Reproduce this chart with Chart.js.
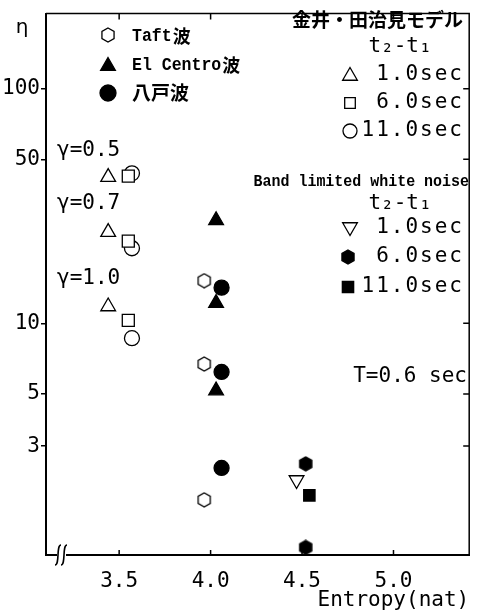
<!DOCTYPE html>
<html>
<head>
<meta charset="utf-8">
<script src="https://cdn.jsdelivr.net/npm/chart.js@4/dist/chart.umd.min.js"></script>
<style>
  html, body { margin: 0; padding: 0; background: #fff; }
</style>
</head>
<body>
<canvas id="etaChart" width="479" height="613"></canvas>
<script>
// Kanai-Tajimi model, t2-t1 = 1.0 / 6.0 / 11.0 sec (rows: gamma 0.5, 0.7, 1.0)
const kt1Entropy = [3.44, 3.44, 3.44];
const kt1Eta = [42.0, 24.5, 11.8];
const kt6Entropy = [3.55, 3.55, 3.55];
const kt6Eta = [42.4, 22.4, 10.3];
const kt11Entropy = [3.57, 3.57, 3.57];
const kt11Eta = [43.6, 20.9, 8.65];

// recorded waves
const taftEntropy = [3.965, 3.965, 3.965];
const taftEta = [15.2, 6.71, 1.77];
const elCentroEntropy = [4.03, 4.03, 4.03];
const elCentroEta = [27.5, 12.2, 5.17];
const hachinoheEntropy = [4.06, 4.06, 4.06];
const hachinoheEta = [14.2, 6.21, 2.42];

// band limited white noise
const bl1Entropy = [4.47];
const bl1Eta = [2.15];
const bl6Entropy = [4.52, 4.52];
const bl6Eta = [2.52, 1.11];
const bl11Entropy = [4.54];
const bl11Eta = [1.85];

const xTicks = [3.5, 4.0, 4.5, 5.0];
const yTicks = [3, 5, 10, 50, 100];
const gammaLabels = ['γ=0.5', 'γ=0.7', 'γ=1.0'];

const MONO = '"DejaVu Sans Mono", monospace';
const BOLDMONO = '"Liberation Mono", monospace';
const CJK = '"Noto Sans CJK JP", sans-serif';

function hexagon(size, filled) {
    const c = document.createElement('canvas');
    c.width = c.height = size;
    const g = c.getContext('2d');
    const r = size / 2 - 1;
    g.beginPath();
    for (let i = 0; i < 6; i++) {
        const a = Math.PI / 3 * i - Math.PI / 2;
        g.lineTo(size / 2 + r * Math.cos(a), size / 2 + r * Math.sin(a));
    }
    g.closePath();
    g.lineWidth = 1.3;
    g.strokeStyle = '#000';
    g.fillStyle = filled ? '#000' : '#fff';
    g.fill();
    g.stroke();
    return c;
}
const hexOpen = hexagon(16, false);
const hexFull = hexagon(16, true);

const pts = (xs, ys) => xs.map((x, i) => ({ x: x, y: ys[i] }));

function series(xs, ys, style, radius, filled, rotation) {
    return {
        data: pts(xs, ys),
        pointStyle: style,
        pointRadius: radius,
        pointRotation: rotation || 0,
        pointBorderWidth: 1.3,
        pointBorderColor: '#000',
        pointBackgroundColor: filled ? '#000' : '#fff',
        showLine: false
    };
}

function txt(ctx, s, x, y, font, align, sx, spacing) {
    ctx.save();
    ctx.font = font;
    ctx.fillStyle = '#000';
    ctx.textAlign = align || 'left';
    ctx.textBaseline = 'middle';
    ctx.letterSpacing = spacing || '0px';
    ctx.translate(x, y);
    ctx.scale(sx || 1, 1);
    ctx.fillText(s, 0, 0);
    const w = ctx.measureText(s).width * (sx || 1);
    ctx.restore();
    return w;
}

function mark(ctx, style, x, y, radius, filled, rotation) {
    ctx.save();
    ctx.fillStyle = filled ? '#000' : '#fff';
    ctx.strokeStyle = '#000';
    ctx.lineWidth = 1.3;
    Chart.helpers.drawPoint(ctx, { pointStyle: style, radius: radius, rotation: rotation || 0, borderWidth: 1.3 }, x, y);
    ctx.restore();
}

// frame, inward ticks, axis break and all the keyed text
const decorations = {
    id: 'decorations',
    afterDraw(chart) {
        const ctx = chart.ctx;
        const a = chart.chartArea;
        const xs = chart.scales.x, ys = chart.scales.y;

        ctx.save();
        ctx.strokeStyle = '#000';
        ctx.lineWidth = 1.5;
        ctx.beginPath();
        ctx.moveTo(a.left, a.top); ctx.lineTo(a.right, a.top); ctx.lineTo(a.right, a.bottom);
        xTicks.forEach(v => {
            const px = xs.getPixelForValue(v);
            ctx.moveTo(px, a.top); ctx.lineTo(px, a.top + 6);
            ctx.moveTo(px, a.bottom); ctx.lineTo(px, a.bottom - 5);
        });
        yTicks.forEach(v => {
            const py = ys.getPixelForValue(v);
            ctx.moveTo(a.right, py); ctx.lineTo(a.right - 6, py);
        });
        ctx.stroke();

        // break on the entropy axis
        ctx.fillStyle = '#fff';
        ctx.fillRect(a.left + 11, a.bottom - 3, 9, 6);
        ctx.lineWidth = 1.6;
        [a.left + 12, a.left + 18].forEach(bx => {
            ctx.beginPath();
            ctx.moveTo(bx - 3, a.bottom + 10);
            ctx.bezierCurveTo(bx + 2, a.bottom + 10, bx - 2, a.bottom - 10, bx + 3, a.bottom - 10);
            ctx.stroke();
        });
        ctx.restore();

        txt(ctx, 'η', 22, 28, '20px "DejaVu Sans"', 'center');

        // wave legend
        mark(ctx, hexOpen, 108, 35, 8);
        let w = txt(ctx, 'Taft', 132, 36, 'bold 19px ' + BOLDMONO, 'left', 0.87);
        txt(ctx, '波', 132 + w + 1, 36, 'bold 18px ' + CJK);
        mark(ctx, 'triangle', 108, 66, 8.5, true);
        w = txt(ctx, 'El Centro', 132, 65, 'bold 19px ' + BOLDMONO, 'left', 0.87);
        txt(ctx, '波', 132 + w + 1, 65, 'bold 18px ' + CJK);
        mark(ctx, 'circle', 108, 93, 8, true);
        txt(ctx, '八戸波', 132, 93, 'bold 19px ' + CJK);

        // Kanai-Tajimi legend
        txt(ctx, '金井・田治見モデル', 463, 20, 'bold 19px ' + CJK, 'right');
        txt(ctx, 't₂-t₁', 400, 47, '21px ' + MONO, 'center');
        mark(ctx, 'triangle', 350, 76, 8.5, false);
        mark(ctx, 'rect', 350, 103, 7.5, false);
        mark(ctx, 'circle', 350, 131, 7, false);
        txt(ctx, '1.0sec', 464, 75, '21px ' + MONO, 'right', 1, '2px');
        txt(ctx, '6.0sec', 464, 103, '21px ' + MONO, 'right', 1, '2px');
        txt(ctx, '11.0sec', 464, 131, '21px ' + MONO, 'right', 1, '2px');

        // white noise legend
        txt(ctx, 'Band limited white noise', 469, 182, 'bold 17px ' + BOLDMONO, 'right', 0.88);
        txt(ctx, 't₂-t₁', 400, 204, '21px ' + MONO, 'center');
        mark(ctx, 'triangle', 350, 227, 8.5, false, 180);
        mark(ctx, hexFull, 348, 257, 8, true);
        mark(ctx, 'rect', 348, 287, 8, true);
        txt(ctx, '1.0sec', 464, 228, '21px ' + MONO, 'right', 1, '2px');
        txt(ctx, '6.0sec', 464, 257, '21px ' + MONO, 'right', 1, '2px');
        txt(ctx, '11.0sec', 464, 287, '21px ' + MONO, 'right', 1, '2px');

        txt(ctx, 'T=0.6 sec', 467, 377, '21px ' + MONO, 'right');

        const gammaY = [151, 204, 279];
        gammaLabels.forEach((g, i) => txt(ctx, g, 57, gammaY[i], '21px ' + MONO));
    }
};

new Chart(document.getElementById('etaChart').getContext('2d'), {
    type: 'scatter',
    data: {
        datasets: [
            series(kt1Entropy, kt1Eta, 'triangle', 8.5, false),
            series(kt6Entropy, kt6Eta, 'rect', 8.5, false),
            series(kt11Entropy, kt11Eta, 'circle', 7.5, false),
            series(taftEntropy, taftEta, hexOpen, 8, false),
            series(elCentroEntropy, elCentroEta, 'triangle', 8.5, true),
            series(hachinoheEntropy, hachinoheEta, 'circle', 7.5, true),
            series(bl1Entropy, bl1Eta, 'triangle', 8.5, false, 180),
            series(bl6Entropy, bl6Eta, hexFull, 8, true),
            series(bl11Entropy, bl11Eta, 'rect', 8, true)
        ]
    },
    options: {
        responsive: false,
        devicePixelRatio: 1,
        animation: false,
        events: [],
        layout: { padding: { top: 8, right: 8, left: 0, bottom: 0 } },
        plugins: { legend: { display: false }, tooltip: { enabled: false } },
        scales: {
            x: {
                type: 'linear',
                min: 3.1,
                max: 5.414,
                afterBuildTicks: s => { s.ticks = xTicks.map(v => ({ value: v })); },
                afterFit: s => { s.height = 58; },
                grid: { display: false },
                border: { display: true, color: '#000', width: 2 },
                ticks: {
                    color: '#000',
                    font: { family: MONO, size: 21 },
                    padding: 6,
                    maxRotation: 0,
                    autoSkip: false,
                    callback: v => v.toFixed(1)
                },
                title: {
                    display: true,
                    text: 'Entropy(nat)',
                    align: 'end',
                    color: '#000',
                    font: { family: MONO, size: 21 },
                    padding: { top: 0, bottom: 0 }
                }
            },
            y: {
                type: 'logarithmic',
                min: 1.03,
                max: 209,
                afterBuildTicks: s => { s.ticks = yTicks.map(v => ({ value: v })); },
                afterFit: s => { s.width = 46; },
                grid: { display: true, drawOnChartArea: false, drawTicks: true, tickLength: 5, color: '#000', lineWidth: 1.5 },
                border: { display: true, color: '#000', width: 2 },
                ticks: {
                    color: '#000',
                    font: { family: MONO, size: 21 },
                    padding: 1,
                    callback: v => String(v)
                }
            }
        }
    },
    plugins: [decorations]
});
</script>
</body>
</html>
